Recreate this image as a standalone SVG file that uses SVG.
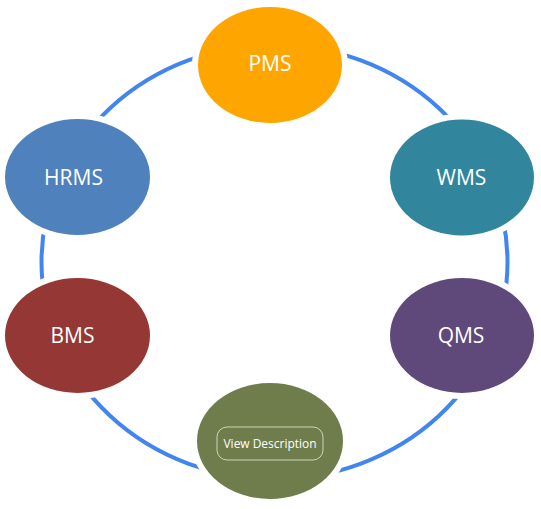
<svg xmlns="http://www.w3.org/2000/svg" width="541" height="509" viewBox="0 0 541 509">
<style>
.ring{fill:none;stroke:#4285f0;stroke-width:4}
.halo{fill:#ffffff}
.lbl{font-family:"Open Sans","Noto Sans","Liberation Sans",sans-serif;font-size:21px;fill:#ffffff;text-anchor:middle}
.btn{fill:none;stroke:#e6e9d8;stroke-opacity:0.8;stroke-width:1}
.btntxt{font-family:"Open Sans","Noto Sans","Liberation Sans",sans-serif;font-size:13px;fill:#ffffff;text-anchor:middle}
</style>
<rect width="541" height="509" fill="#ffffff"/>
<g id="connectors">
<ellipse class="ring" cx="274.5" cy="262" rx="233" ry="217"/>
</g>
<g id="node-pms">
<ellipse class="halo" cx="270" cy="65" rx="78" ry="64"/>
<ellipse cx="270" cy="65" rx="72" ry="58" fill="#ffa500"/>
<text class="lbl" x="270" y="71">PMS</text>
</g>
<g id="node-hrms">
<ellipse class="halo" cx="77.5" cy="177" rx="78.5" ry="64"/>
<ellipse cx="77.5" cy="177" rx="72.5" ry="58" fill="#4f81bd"/>
<text class="lbl" x="73.5" y="185">HRMS</text>
</g>
<g id="node-wms">
<ellipse class="halo" cx="462" cy="177.5" rx="78" ry="64"/>
<ellipse cx="462" cy="177.5" rx="72" ry="58" fill="#31859c"/>
<text class="lbl" x="461.5" y="185">WMS</text>
</g>
<g id="node-qms">
<ellipse class="halo" cx="462" cy="335.5" rx="78" ry="63.5"/>
<ellipse cx="462" cy="335.5" rx="72" ry="57.5" fill="#5f497a"/>
<text class="lbl" x="461" y="343">QMS</text>
</g>
<g id="node-bms">
<ellipse class="halo" cx="77.5" cy="335.5" rx="78.5" ry="63.5"/>
<ellipse cx="77.5" cy="335.5" rx="72.5" ry="57.5" fill="#953735"/>
<text class="lbl" x="72.5" y="343">BMS</text>
</g>
<g id="node-view">
<ellipse class="halo" cx="270" cy="441" rx="79" ry="64"/>
<ellipse cx="270" cy="441" rx="73" ry="58" fill="#6e7d4b"/>
<rect class="btn" x="217" y="427" width="106" height="33" rx="10" ry="10"/>
<text class="btntxt" x="270" y="448" textLength="93" lengthAdjust="spacingAndGlyphs">View Description</text>
</g>
</svg>
